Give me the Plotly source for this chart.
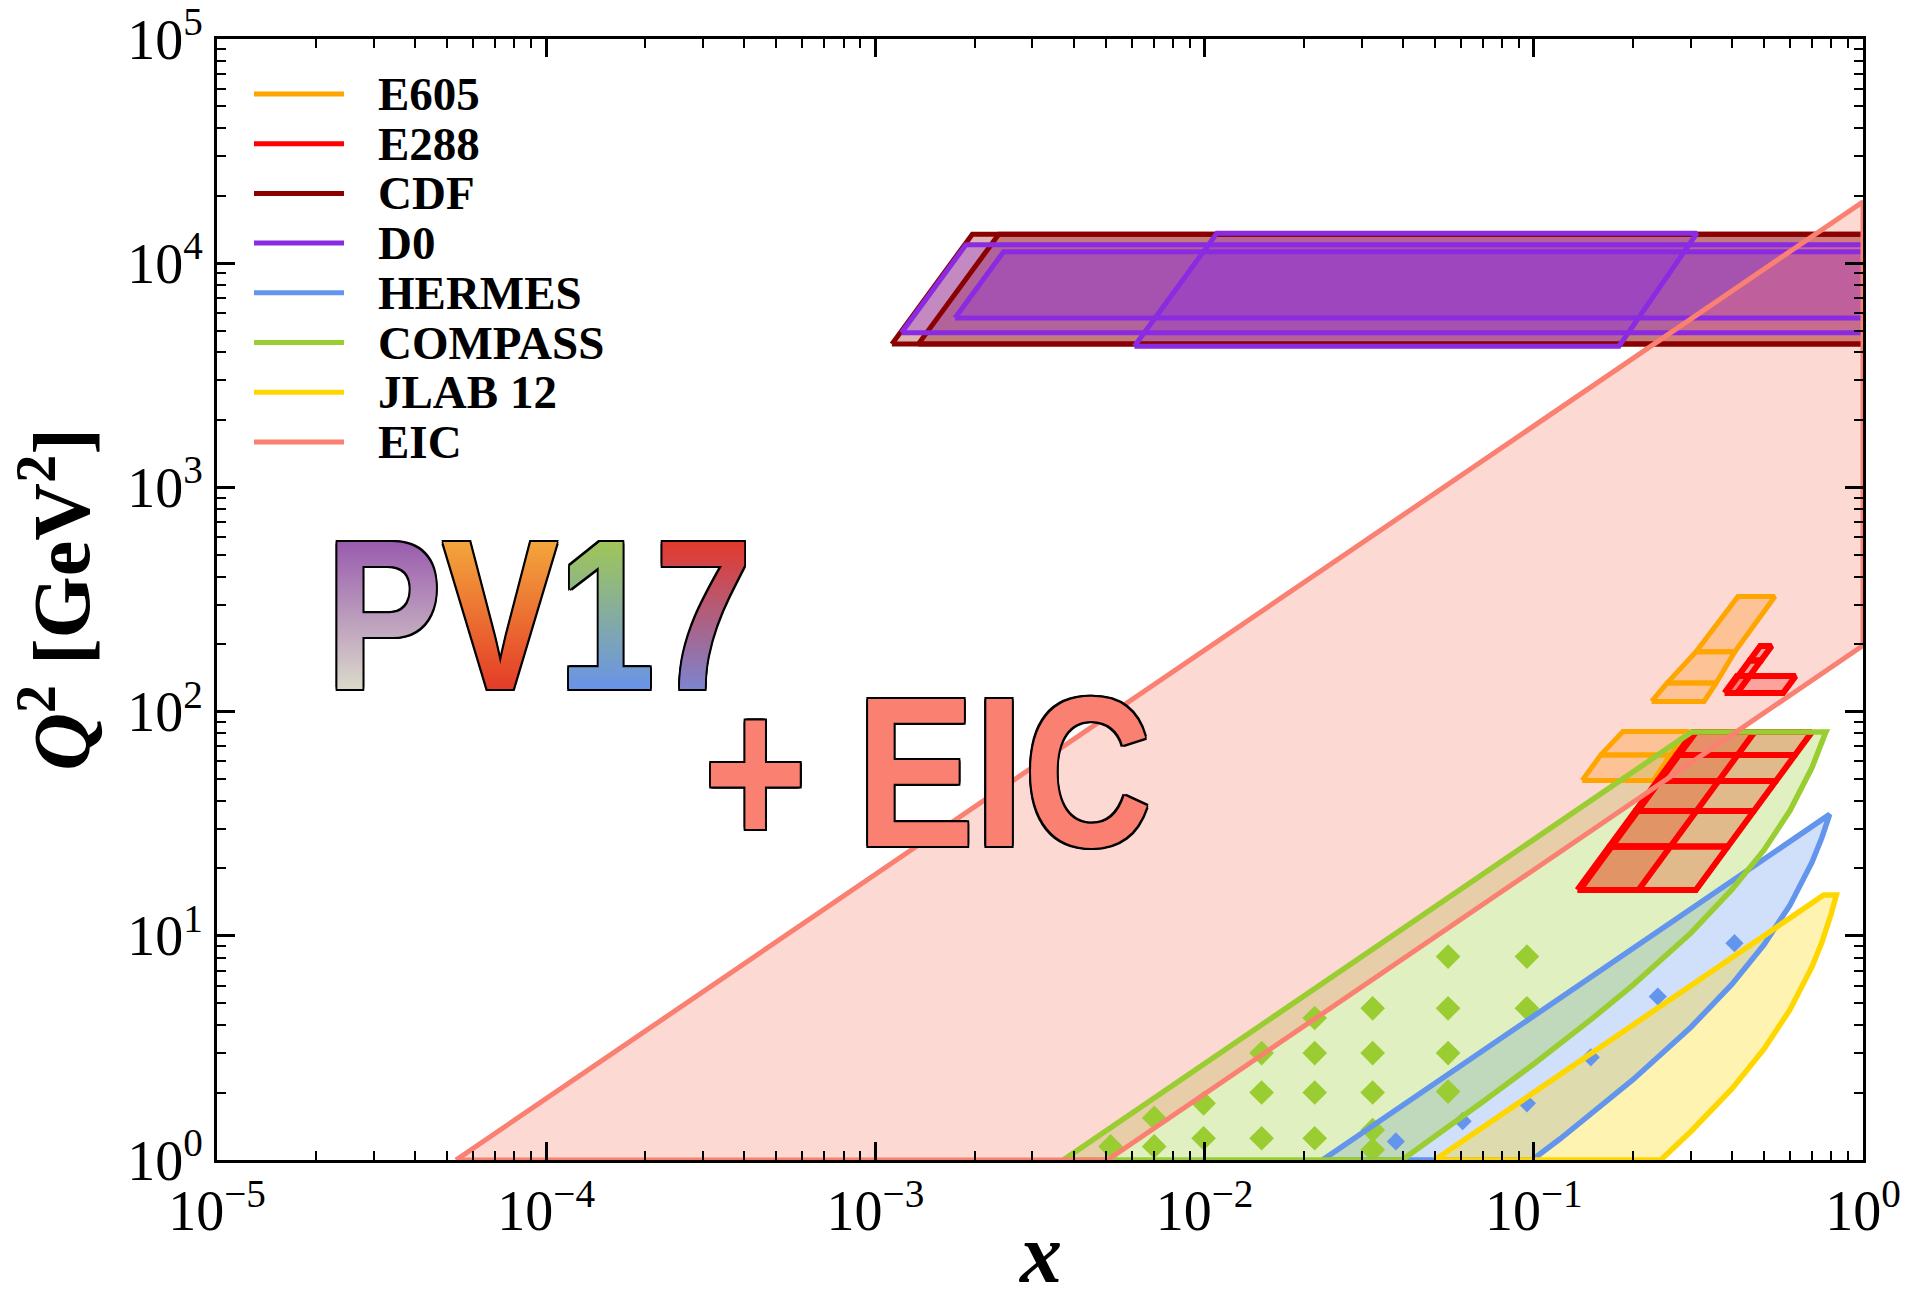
import plotly.graph_objects as go

# ------------------------------------------------------------------
# DATA
# ------------------------------------------------------------------
X_TICK_VALUES = [1e-5, 1e-4, 1e-3, 1e-2, 1e-1, 1.0]
X_TICK_LABELS = ["10<sup>−5</sup>", "10<sup>−4</sup>", "10<sup>−3</sup>",
                 "10<sup>−2</sup>", "10<sup>−1</sup>", "10<sup>0</sup>"]
Y_TICK_VALUES = [1.0, 10.0, 100.0, 1e3, 1e4, 1e5]
Y_TICK_LABELS = ["10<sup>0</sup>", "10<sup>1</sup>", "10<sup>2</sup>",
                 "10<sup>3</sup>", "10<sup>4</sup>", "10<sup>5</sup>"]

SERIES = ["E605", "E288", "CDF", "D0", "HERMES", "COMPASS", "JLAB 12", "EIC"]

# EIC kinematic region (polygon corners)
EIC_X = [5.32e-5, 1.0, 1.0, 5.07e-3, 5.32e-5]
EIC_Q2 = [1.0, 1.88e4, 197.0, 1.0, 1.0]

# COMPASS region boundary
COMPASS_X = [0.00372, 0.301, 0.771, 0.77, 0.7, 0.6, 0.5, 0.4, 0.3, 0.2,
             0.15, 0.1, 0.07, 0.05, 0.0398, 0.00372]
COMPASS_Q2 = [1.0, 81.0, 81.0, 80.7, 56.3, 36.2, 24.1, 16.1, 10.3, 6.03,
              4.26, 2.68, 1.82, 1.27, 1.0, 1.0]

# HERMES region boundary
HERMES_X = [0.0228, 0.792, 0.75, 0.7, 0.6, 0.5, 0.4, 0.3, 0.2, 0.15, 0.12,
            0.0988, 0.0228]
HERMES_Q2 = [1.0, 34.8, 27.4, 21.3, 13.7, 9.12, 6.08, 3.91, 2.28, 1.61, 1.24,
             1.0, 1.0]

# JLAB 12 region boundary
JLAB_X = [0.05, 0.76, 0.83, 0.8, 0.75, 0.7, 0.6, 0.5, 0.4, 0.3, 0.243, 0.05]
JLAB_Q2 = [1.0, 15.2, 15.2, 12.5, 9.36, 7.28, 4.68, 3.12, 2.08, 1.34, 1.0, 1.0]

# COMPASS data points
COMPASS_PTS_X = [0.0549, 0.0953, 0.0216, 0.0324, 0.0549, 0.0953, 0.0149,
                 0.0216, 0.0324, 0.0549, 0.00993, 0.0149, 0.0216, 0.0324,
                 0.0549, 0.00703, 0.00993, 0.0149, 0.0216, 0.0324, 0.00518,
                 0.00703, 0.0324]
COMPASS_PTS_Q2 = [8.08, 8.08, 4.30, 4.75, 4.75, 4.75, 3.0, 3.0, 3.0, 3.0,
                  1.79, 2.0, 2.0, 2.0, 2.02, 1.54, 1.25, 1.25, 1.25, 1.36,
                  1.15, 1.15, 1.11]

# HERMES data points
HERMES_PTS_X = [0.0381, 0.0608, 0.0953, 0.149, 0.238, 0.407]
HERMES_PTS_Q2 = [1.21, 1.49, 1.79, 2.87, 5.36, 9.27]

# E605 bins: Q2 range, x at low-Q2 edge (left,right), x at high-Q2 edge
E605_Q2_LO = [111.0, 134.0, 185.0, 49.3, 64.1]
E605_Q2_HI = [134.0, 185.0, 326.0, 64.1, 81.5]
E605_XLO_L = [0.228, 0.254, 0.311, 0.1403, 0.1598]
E605_XLO_R = [0.329, 0.358, 0.408, 0.2308, 0.260]
E605_XHI_L = [0.254, 0.311, 0.417, 0.1598, 0.1865]
E605_XHI_R = [0.358, 0.408, 0.540, 0.260, 0.296]

# E288 bins: Q edges [GeV] and x/Q ranges of the three overlapping sets
E288_Q_EDGES_A = [4, 5, 6, 7, 8, 9]
E288_RATIO_A = [0.0339, 0.0777]
E288_Q_EDGES_B = [4, 5, 6, 7, 8, 9, None, 11, 12]
E288_RATIO_B = [0.0345, 0.0520]
E288_Q_EDGES_C = [11, 12, 13, 14]
E288_RATIO_C = [0.0348, 0.0377]

# CDF boxes
CDF_Q2_LO = [4356.0, 4356.0]
CDF_Q2_HI = [13456.0, 13456.0]
CDF_XLO_L = [1.122e-3, 1.35e-3]
CDF_XHI_L = [1.97e-3, 2.37e-3]
CDF_XLO_R = [3.0, 3.0]
CDF_XHI_R = [5.3, 5.3]

# D0 boxes
D0_Q2_LO = [4900.0, 5700.0, 4260.0]
D0_Q2_HI = [12100.0, 11240.0, 13600.0]
D0_XLO_L = [1.20e-3, 1.745e-3, 6.12e-3]
D0_XHI_L = [1.885e-3, 2.45e-3, 1.09e-2]
D0_XLO_R = [3.0, 3.0, 0.1815]
D0_XHI_R = [5.3, 5.3, 0.313]

# ------------------------------------------------------------------
# STYLE
# ------------------------------------------------------------------
COL = {
    "E605": "#FFA500", "E288": "#FF0000", "CDF": "#8B0000", "D0": "#8A2BE2",
    "HERMES": "#6495ED", "COMPASS": "#9ACD32", "JLAB 12": "#FFD700",
    "EIC": "#FA8072",
}
FILL = {
    "E605": "rgba(255,165,0,0.35)", "E288": "rgba(255,0,0,0.30)",
    "CDF": "rgba(139,0,0,0.30)", "D0": "rgba(138,43,226,0.30)",
    "HERMES": "rgba(100,149,237,0.30)", "COMPASS": "rgba(154,205,50,0.30)",
    "JLAB 12": "rgba(255,215,0,0.30)", "EIC": "rgba(250,128,114,0.30)",
}
LW = {"E605": 5, "E288": 6, "CDF": 5, "D0": 5, "HERMES": 5.5,
      "COMPASS": 5.5, "JLAB 12": 5.5, "EIC": 5}
W, H = 1913, 1300
L, R, T, B = 217, 1863, 39, 1160   # plot area in pixels
SERIF = "Liberation Serif, Times New Roman, serif"


def px_x(p):
    return (p - L) / (R - L)


def px_y(p):
    return (B - p) / (B - T)


def box_path(qlo, qhi, xll, xlr, xhl, xhr):
    return [xll, xlr, xhr, xhl, xll], [qlo, qlo, qhi, qhi, qlo]


def boxes_path(q2lo, q2hi, xll, xlr, xhl, xhr):
    xs, ys = [], []
    for i in range(len(q2lo)):
        bx, by = box_path(q2lo[i], q2hi[i], xll[i], xlr[i], xhl[i], xhr[i])
        xs += bx + [None]
        ys += by + [None]
    return xs, ys


def ratio_cells(edges, ratio):
    xs, ys = [], []
    for a, b in zip(edges[:-1], edges[1:]):
        if a is None or b is None:
            continue
        bx, by = box_path(a * a, b * b, ratio[0] * a, ratio[1] * a,
                          ratio[0] * b, ratio[1] * b)
        xs += bx + [None]
        ys += by + [None]
    return xs, ys


# collect every outlined region (series name, x list, Q2 list)
regions = []
xs, ys = boxes_path(E605_Q2_LO, E605_Q2_HI, E605_XLO_L, E605_XLO_R,
                    E605_XHI_L, E605_XHI_R)
regions.append(("E605", xs, ys))
for edges, ratio in [(E288_Q_EDGES_A, E288_RATIO_A),
                     (E288_Q_EDGES_B, E288_RATIO_B),
                     (E288_Q_EDGES_C, E288_RATIO_C)]:
    xs, ys = ratio_cells(edges, ratio)
    regions.append(("E288", xs, ys))
for i in range(len(CDF_Q2_LO)):
    xs, ys = box_path(CDF_Q2_LO[i], CDF_Q2_HI[i], CDF_XLO_L[i], CDF_XLO_R[i],
                      CDF_XHI_L[i], CDF_XHI_R[i])
    regions.append(("CDF", xs, ys))
for i in range(len(D0_Q2_LO)):
    xs, ys = box_path(D0_Q2_LO[i], D0_Q2_HI[i], D0_XLO_L[i], D0_XLO_R[i],
                      D0_XHI_L[i], D0_XHI_R[i])
    regions.append(("D0", xs, ys))
regions.append(("HERMES", HERMES_X, HERMES_Q2))
regions.append(("COMPASS", COMPASS_X, COMPASS_Q2))
regions.append(("JLAB 12", JLAB_X, JLAB_Q2))
regions.append(("EIC", EIC_X, EIC_Q2))

fig = go.Figure()

# 1) translucent fills
for name, xs, ys in regions:
    fig.add_trace(go.Scatter(x=xs, y=ys, mode="none", fill="toself",
                             fillcolor=FILL[name], name=name,
                             showlegend=False, hoverinfo="skip"))

# 2) data points
fig.add_trace(go.Scatter(x=COMPASS_PTS_X, y=COMPASS_PTS_Q2, mode="markers",
                         marker=dict(symbol="diamond", size=19,
                                     color=COL["COMPASS"], line=dict(width=0)),
                         name="COMPASS data", showlegend=False,
                         hoverinfo="skip"))
fig.add_trace(go.Scatter(x=HERMES_PTS_X, y=HERMES_PTS_Q2, mode="markers",
                         marker=dict(symbol="diamond", size=14,
                                     color=COL["HERMES"], line=dict(width=0)),
                         name="HERMES data", showlegend=False,
                         hoverinfo="skip"))

# 3) outlines on top
for name, xs, ys in regions:
    fig.add_trace(go.Scatter(x=xs, y=ys, mode="lines",
                             line=dict(color=COL[name], width=LW[name]),
                             name=name, showlegend=False, hoverinfo="skip",
                             connectgaps=False))

# ------------------------------------------------------------------
# axes
# ------------------------------------------------------------------
minor_x = [m * 10.0 ** e for e in range(-5, 0) for m in range(2, 10)]
minor_y = [m * 10.0 ** e for e in range(0, 5) for m in range(2, 10)]

axis_common = dict(
    type="log", showgrid=False, zeroline=False, showline=True,
    linecolor="black", linewidth=3, mirror="ticks", ticks="inside",
    ticklen=18, tickwidth=2.5, tickcolor="black", automargin=False,
    tickfont=dict(family=SERIF, size=56, color="black"),
)
fig.update_xaxes(
    range=[-5, 0], tickmode="array", tickvals=X_TICK_VALUES,
    ticktext=X_TICK_LABELS,
    minor=dict(tickmode="array", tickvals=minor_x, ticks="inside",
               ticklen=9, tickwidth=2, tickcolor="black", showgrid=False),
    **axis_common)
fig.update_yaxes(
    range=[0, 5], tickmode="array", tickvals=Y_TICK_VALUES,
    ticktext=Y_TICK_LABELS,
    minor=dict(tickmode="array", tickvals=minor_y, ticks="inside",
               ticklen=9, tickwidth=2, tickcolor="black", showgrid=False),
    title=dict(text="<b><i>Q</i><sup>2</sup> [GeV<sup>2</sup>]</b>",
               font=dict(family=SERIF, size=80, color="black"), standoff=12),
    **axis_common)

# ------------------------------------------------------------------
# legend (drawn as line keys + text)
# ------------------------------------------------------------------
shapes = []
annotations = []
for i, name in enumerate(SERIES):
    yy = 94 + 49.7 * i
    shapes.append(dict(type="line", xref="paper", yref="paper",
                       x0=px_x(254), x1=px_x(344), y0=px_y(yy), y1=px_y(yy),
                       line=dict(color=COL[name], width=5)))
    annotations.append(dict(xref="paper", yref="paper", x=px_x(376),
                            y=px_y(yy), xanchor="left", yanchor="middle",
                            text="<b>" + name + "</b>", showarrow=False,
                            font=dict(family=SERIF, size=47, color="black")))

# x-axis title
annotations.append(dict(xref="paper", yref="paper", x=0.5, y=px_y(1253),
                        xanchor="center", yanchor="middle", showarrow=False,
                        text="<b><i>x</i></b>",
                        font=dict(family=SERIF, size=84, color="black")))

# ------------------------------------------------------------------
# logo text
# ------------------------------------------------------------------
outline = ", ".join(f"{dx}px {dy}px 0 #000" for dx, dy in
                    [(2, 0), (-2, 0), (0, 2), (0, -2), (2, 2), (-2, -2),
                     (2, -2), (-2, 2)])
logo_font = dict(family="Liberation Sans Narrow, Arial Narrow, Liberation Sans, sans-serif",
                 size=214, weight="bold", shadow=outline)
annotations.append(dict(
    xref="paper", yref="paper", x=px_x(539), y=px_y(614),
    xanchor="center", yanchor="middle", showarrow=False,
    text=("<span style='color:#B08FC0'>P</span>"
          "<span style='color:#EE7430'>V</span>"
          "<span style='color:#86AE98'>1</span>"
          "<span style='color:#B75C78'>7</span>"),
    font=logo_font))
annotations.append(dict(
    xref="paper", yref="paper", x=px_x(927), y=px_y(772),
    xanchor="center", yanchor="middle", showarrow=False,
    text="+ EIC", font=dict(logo_font, color="#FA8072")))

fig.update_layout(
    width=W, height=H,
    margin=dict(l=L, r=W - R, t=T, b=H - B, pad=0),
    plot_bgcolor="white", paper_bgcolor="white",
    shapes=shapes, annotations=annotations, showlegend=False,
)

# condensed look + vertical colour gradients of the logo letters
POST = r"""
document.body.style.margin='0';
document.body.style.overflow='hidden';
(function(){
  var gd = document.getElementById('{plot_id}');
  if(!gd) return;
  var ns = 'http://www.w3.org/2000/svg';
  var grads = {'P':['#9A5CAE','#DAD7CA'],'V':['#F3A53C','#E43E28'],
               '1':['#A0C558','#6A94E6'],'7':['#E23A2E','#7F82CC']};
  var texts = gd.querySelectorAll('text.annotation-text');
  texts.forEach(function(t){
    var s = (t.textContent || '').replace(/\s/g,'');
    var target = null;
    if (s === 'PV17') target = 426;
    else if (s === '+EIC') target = 448;
    if (!target) return;
    var bb = t.getBBox();
    if (!bb.width) return;
    var k = target / bb.width;
    var cx = bb.x + bb.width / 2;
    var old = t.getAttribute('transform') || '';
    t.setAttribute('transform', old + ' translate(' + cx + ',0) scale(' + k +
                   ',1) translate(' + (-cx) + ',0)');
    if (s === 'PV17') {
      var svg = t.ownerSVGElement;
      var defs = svg.querySelector('defs');
      if (!defs) { defs = document.createElementNS(ns,'defs'); svg.insertBefore(defs, svg.firstChild); }
      t.querySelectorAll('tspan').forEach(function(ts){
        var c = grads[ts.textContent];
        if (!c) return;
        var id = 'pvgrad' + ts.textContent;
        var g = document.createElementNS(ns,'linearGradient');
        g.setAttribute('id', id);
        g.setAttribute('x1','0'); g.setAttribute('y1','0');
        g.setAttribute('x2','0'); g.setAttribute('y2','1');
        [[0.2,c[0]],[0.8,c[1]]].forEach(function(st){
          var e = document.createElementNS(ns,'stop');
          e.setAttribute('offset', st[0]); e.setAttribute('stop-color', st[1]);
          g.appendChild(e);
        });
        defs.appendChild(g);
        ts.style.fill = 'url(#' + id + ')';
      });
    }
  });
})();
"""

fig.write_html("out.html", config={"displayModeBar": False}, post_script=POST)
